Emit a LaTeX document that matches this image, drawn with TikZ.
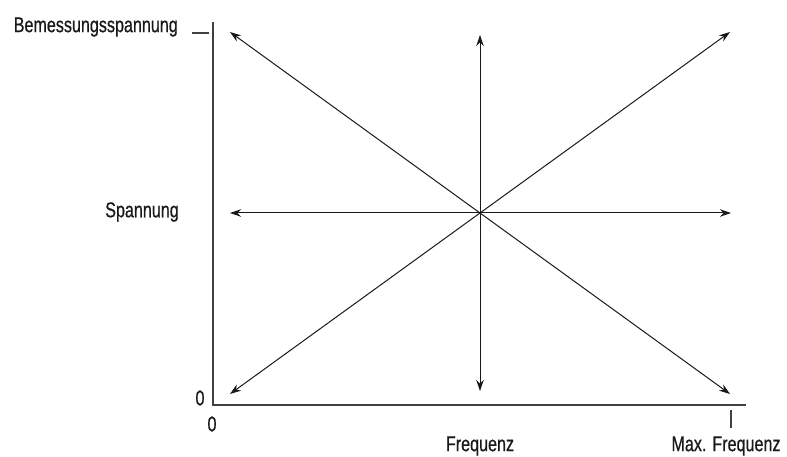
\documentclass[tikz,border=0pt]{standalone}
\usepackage{fontspec}
\setmainfont[FakeStretch=0.75,FakeBold=0.6]{Liberation Sans}
\usetikzlibrary{arrows.meta}
\begin{document}
\begin{tikzpicture}[x=1pt,y=-1pt,
  lbl/.style={font=\fontsize{21.5}{24}\selectfont, inner sep=0pt, text=black!90},
  axisline/.style={draw=black!75, line width=1.4pt},
  tickline/.style={draw=black!75, line width=1.1pt},
  arr/.style={draw=black!90, line width=1pt, {Stealth[length=11pt,width=7.5pt]}-{Stealth[length=11pt,width=7.5pt]}}]
\useasboundingbox (0,0) rectangle (787,457);
% axes
\coordinate (ytop) at (213,22);
\coordinate (orig) at (213,405);
\coordinate (xend) at (746,405);
\draw[axisline] (ytop) -- (orig) -- (xend);
% ticks
\coordinate (yt1) at (192,33);
\coordinate (yt2) at (209,33);
\draw[tickline] (yt1) -- (yt2);
\coordinate (xt1) at (731,410);
\coordinate (xt2) at (731,428);
\draw[tickline] (xt1) -- (xt2);
% arrows
\coordinate (c) at (480,213);
\coordinate (ul) at (230,32);
\coordinate (ur) at (730,32);
\coordinate (ll) at (230,394);
\coordinate (lr) at (730,394);
\coordinate (top) at (480,35);
\coordinate (bot) at (480,391);
\coordinate (le) at (230,213);
\coordinate (ri) at (731,213);
\draw[arr] (ul) -- (lr);
\draw[arr] (ll) -- (ur);
\draw[arr] (top) -- (bot);
\draw[arr] (le) -- (ri);
% labels
\node[lbl, anchor=east] (bem) at (178,27) {Bemessungsspannung};
\node[lbl] (span) at (142,212) {Spannung};
\node[lbl] (y0) at (200,398) {0};
\node[lbl] (x0) at (212,424) {0};
\node[lbl] (freq) at (480,446) {Frequenz};
\node[lbl] (maxf) at (726,446) {Max. Frequenz};
\end{tikzpicture}
\end{document}
